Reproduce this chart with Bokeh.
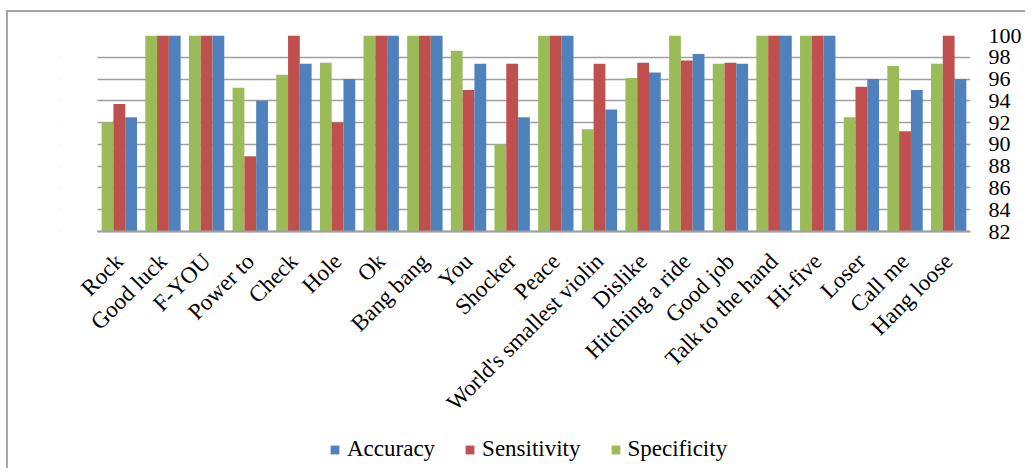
import math
from bokeh.plotting import figure
from bokeh.models import (ColumnDataSource, Range1d, Legend, LegendItem, FixedTicker,
                          BoxAnnotation)
from bokeh.transform import dodge
from bokeh.embed import file_html
from bokeh.resources import INLINE

categories = ["Rock", "Good luck", "F-YOU", "Power to", "Check", "Hole", "Ok",
              "Bang bang", "You", "Shocker", "Peace", "World's smallest violin",
              "Dislike", "Hitching a ride", "Good job", "Talk to the hand",
              "Hi-five", "Loser", "Call me", "Hang loose"]
accuracy = [92.5, 100, 100, 94.0, 97.4, 96.0, 100, 100, 97.4, 92.5, 100, 93.2,
            96.6, 98.3, 97.4, 100, 100, 96.0, 95.0, 96.0]
sensitivity = [93.7, 100, 100, 88.9, 100, 92.0, 100, 100, 95.0, 97.4, 100, 97.4,
               97.5, 97.7, 97.5, 100, 100, 95.3, 91.2, 100]
specificity = [92.0, 100, 100, 95.2, 96.4, 97.5, 100, 100, 98.6, 90.0, 100, 91.4,
               96.1, 100, 97.4, 100, 100, 92.5, 97.2, 97.4]
y_ticks = [82, 84, 86, 88, 90, 92, 94, 96, 98, 100]

n = len(categories)
centers = [i + 0.5 for i in range(n)]
src = ColumnDataSource(dict(x=centers, cat=categories, acc=accuracy,
                            sen=sensitivity, spe=specificity))

FONT = "Liberation Serif"

# value axis 82..100 spans 196 px; frame extended down to hold labels and legend
PX_PER_UNIT = 196 / 18
FRAME_H = 433
y_low = 100 - FRAME_H / PX_PER_UNIT
# category slot is 43.65 px; frame extended 37 px to the left so labels are not clipped
SLOT = 43.65
LEFT_PAD = 37
x_low = -LEFT_PAD / SLOT

p = figure(frame_width=int(round(SLOT * n + LEFT_PAD)), frame_height=FRAME_H,
           x_range=Range1d(x_low, n), y_range=Range1d(y_low, 100),
           y_axis_location="right", output_backend="svg", toolbar_location=None,
           min_border_left=97 - LEFT_PAD, min_border_right=55, min_border_top=35,
           min_border_bottom=0)
p.styles = {
    "background": ("linear-gradient(#a6a6a6,#a6a6a6) 6px 10px / 2px 100% no-repeat, "
                   "linear-gradient(#a6a6a6,#a6a6a6) 6px 10px / 100% 2px no-repeat, white"),
}
p.outline_line_color = None
p.background_fill_color = "white"
p.border_fill_alpha = 0

p.xgrid.grid_line_color = None
p.ygrid.grid_line_color = "#a0a0a0"
p.ygrid.grid_line_width = 1.5
p.ygrid.level = "underlay"

# hide the grid in the left padding strip
p.add_layout(BoxAnnotation(right=0, fill_color="white", fill_alpha=1.0,
                           line_color=None, level="underlay"))

w = 0.27
r_spe = p.vbar(x=dodge("x", -w), top="spe", bottom=82, width=w,
               source=src, fill_color="#9BBB59", line_color=None)
r_sen = p.vbar(x=dodge("x", 0), top="sen", bottom=82, width=w,
               source=src, fill_color="#C0504D", line_color=None)
r_acc = p.vbar(x=dodge("x", w), top="acc", bottom=82, width=w,
               source=src, fill_color="#4F81BD", line_color=None)

p.yaxis.ticker = FixedTicker(ticks=y_ticks)
p.yaxis.axis_line_color = None
p.yaxis.major_tick_line_color = None
p.yaxis.minor_tick_line_color = None
p.yaxis.major_tick_out = 0
p.yaxis.major_label_standoff = 18
p.yaxis.major_label_text_font = FONT
p.yaxis.major_label_text_font_size = "22px"
p.yaxis.major_label_text_color = "black"

p.xaxis.fixed_location = 82
p.xaxis.bounds = (0, n)
p.xaxis.ticker = FixedTicker(ticks=centers)
p.xaxis.major_label_overrides = {c: name for c, name in zip(centers, categories)}
p.xaxis.axis_line_color = "#a0a0a0"
p.xaxis.axis_line_width = 2
p.xaxis.major_tick_line_color = None
p.xaxis.minor_tick_line_color = None
p.xaxis.major_tick_out = 0
p.xaxis.major_label_orientation = math.pi / 4
p.xaxis.major_label_standoff = 26
p.xaxis.major_label_text_font = FONT
p.xaxis.major_label_text_font_size = "23px"
p.xaxis.major_label_text_color = "black"

items = [LegendItem(label="Accuracy", renderers=[r_acc]),
         LegendItem(label="Sensitivity", renderers=[r_sen]),
         LegendItem(label="Specificity", renderers=[r_spe])]
legend = Legend(items=items,
                orientation="horizontal", location=(232 + LEFT_PAD, 6),
                glyph_width=11, glyph_height=11, label_standoff=7, spacing=29,
                padding=0, margin=0, border_line_color=None, background_fill_alpha=0,
                label_text_font=FONT, label_text_font_size="23px", label_text_color="black")
p.add_layout(legend, "center")

open("out.html", "w").write(file_html(p, INLINE))
